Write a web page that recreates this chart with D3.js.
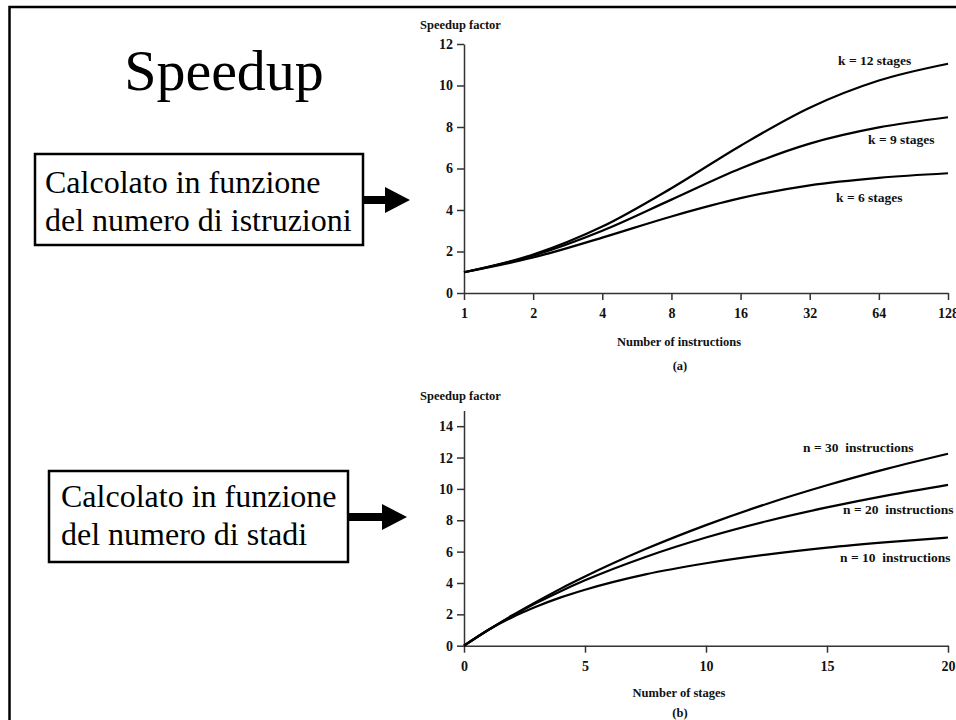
<!DOCTYPE html>
<html>
<head>
<meta charset="utf-8">
<script src="https://cdn.jsdelivr.net/npm/d3@7"></script>
<style>
  body { margin: 0; background: #fff; }
  svg { display: block; }
  .axis path, .axis line { stroke: #333; stroke-width: 1.5; }
  .axis text { font-family: "Liberation Serif", "Times New Roman", serif; font-weight: bold; font-size: 14px; fill: #111; }
  .lbl { font-family: "Liberation Serif", "Times New Roman", serif; font-weight: bold; fill: #111; }
  .slide { font-family: "Liberation Serif", "Times New Roman", serif; fill: #000; }
</style>
</head>
<body>
<svg id="slide" width="956" height="720"></svg>
<script>
// (a) speedup vs number of instructions, one curve per pipeline depth
const instrTicks = [1, 2, 4, 8, 16, 32, 64, 128];
const speedupTicksA = [0, 2, 4, 6, 8, 10, 12];
const k12 = [1.00, 1.85, 3.20, 5.05, 7.10, 8.93, 10.24, 11.05];
const k9  = [1.00, 1.80, 3.00, 4.50, 6.00, 7.20, 7.98, 8.47];
const k6  = [1.00, 1.71, 2.67, 3.69, 4.57, 5.19, 5.55, 5.77];
const seriesA = [
  { label: "k = 12 stages", values: k12 },
  { label: "k = 9 stages", values: k9 },
  { label: "k = 6 stages", values: k6 }
];

// (b) speedup vs number of stages, one curve per instruction count
const stagePoints = [0, 1, 2, 3, 4, 5, 7.5, 10, 12.5, 15, 17.5, 20];
const stageTicks = [0, 5, 10, 15, 20];
const speedupTicksB = [0, 2, 4, 6, 8, 10, 12, 14];
const n30 = [0, 1.00, 1.94, 2.81, 3.64, 4.41, 6.16, 7.69, 9.04, 10.23, 11.29, 12.24];
const n20 = [0, 1.00, 1.90, 2.73, 3.48, 4.17, 5.66, 6.90, 7.94, 8.82, 9.59, 10.26];
const n10 = [0, 1.00, 1.82, 2.50, 3.08, 3.57, 4.55, 5.26, 5.81, 6.25, 6.60, 6.90];
const seriesB = [
  { label: "n = 30  instructions", values: n30 },
  { label: "n = 20  instructions", values: n20 },
  { label: "n = 10  instructions", values: n10 }
];

const svg = d3.select("#slide");

// slide frame (only left and top edges are visible)
svg.append("path")
    .attr("d", "M9.5,720 V7 H956")
    .attr("fill", "none")
    .attr("stroke", "#000")
    .attr("stroke-width", 2.5);

svg.append("text")
    .attr("class", "slide")
    .attr("x", 224).attr("y", 90)
    .attr("text-anchor", "middle")
    .attr("font-size", 58)
    .text("Speedup");

// callout boxes with arrows pointing at the charts
const callouts = [
  { lines: ["Calcolato in funzione", "del numero di istruzioni"], x: 35, y: 154, w: 328, h: 91, tx: 45, base: 193, arrowY: 200, tip: 410 },
  { lines: ["Calcolato in funzione", "del numero di stadi"], x: 49, y: 471, w: 299, h: 91, tx: 61, base: 507, arrowY: 517, tip: 407 }
];

callouts.forEach(c => {
  svg.append("rect")
      .attr("x", c.x).attr("y", c.y)
      .attr("width", c.w).attr("height", c.h)
      .attr("fill", "#fff")
      .attr("stroke", "#000")
      .attr("stroke-width", 2.5);
  svg.append("text")
      .attr("class", "slide")
      .attr("font-size", 32)
      .selectAll("tspan")
      .data(c.lines)
      .enter().append("tspan")
      .attr("x", c.tx)
      .attr("y", (d, i) => c.base + i * 38)
      .text(d => d);
  const x0 = c.x + c.w, head = c.tip - 25;
  svg.append("path")
      .attr("d", `M${x0},${c.arrowY - 4} H${head} V${c.arrowY - 13} L${c.tip},${c.arrowY} L${head},${c.arrowY + 13} V${c.arrowY + 4} H${x0} Z`)
      .attr("fill", "#000");
});

const line = (x, y) => d3.line().x(d => x(d[0])).y(d => y(d[1])).curve(d3.curveMonotoneX);

// ---------- chart (a) ----------
const xA = d3.scaleLog().base(2).domain([1, 128]).range([464, 948]);
const yA = d3.scaleLinear().domain([0, 12]).range([293, 44]);

svg.append("g").attr("class", "axis")
    .attr("transform", "translate(0,293)")
    .call(d3.axisBottom(xA).tickValues(instrTicks).tickFormat(d3.format("d"))
      .tickSize(7).tickSizeOuter(0).tickPadding(8));
svg.append("g").attr("class", "axis")
    .attr("transform", "translate(464,0)")
    .call(d3.axisLeft(yA).tickValues(speedupTicksA).tickSize(7).tickSizeOuter(0).tickPadding(4));

svg.selectAll(".curveA")
    .data(seriesA)
    .enter().append("path")
    .attr("class", "curveA")
    .attr("fill", "none")
    .attr("stroke", "#000")
    .attr("stroke-width", 2.2)
    .attr("d", s => line(xA, yA)(instrTicks.map((n, i) => [n, s.values[i]])));

const labelPosA = [[838, 65], [868, 144], [836, 202]];
svg.selectAll(".lblA")
    .data(seriesA)
    .enter().append("text")
    .attr("class", "lbl lblA")
    .attr("font-size", 13.5)
    .attr("x", (d, i) => labelPosA[i][0])
    .attr("y", (d, i) => labelPosA[i][1])
    .text(d => d.label);

svg.append("text").attr("class", "lbl").attr("font-size", 12.5)
    .attr("x", 420).attr("y", 29).text("Speedup factor");
svg.append("text").attr("class", "lbl").attr("font-size", 12.5)
    .attr("x", 679).attr("y", 346).attr("text-anchor", "middle").text("Number of instructions");
svg.append("text").attr("class", "lbl").attr("font-size", 12.5)
    .attr("x", 680).attr("y", 370).attr("text-anchor", "middle").text("(a)");

// ---------- chart (b) ----------
const xB = d3.scaleLinear().domain([0, 20]).range([464, 948]);
const yB = d3.scaleLinear().domain([0, 15]).range([645.7, 410.5]);

svg.append("g").attr("class", "axis")
    .attr("transform", "translate(0,645.7)")
    .call(d3.axisBottom(xB).tickValues(stageTicks).tickSize(7).tickSizeOuter(0).tickPadding(8));
svg.append("g").attr("class", "axis")
    .attr("transform", "translate(464,0)")
    .call(d3.axisLeft(yB).tickValues(speedupTicksB).tickSize(7).tickSizeOuter(0).tickPadding(4));

svg.selectAll(".curveB")
    .data(seriesB)
    .enter().append("path")
    .attr("class", "curveB")
    .attr("fill", "none")
    .attr("stroke", "#000")
    .attr("stroke-width", 2.2)
    .attr("d", s => line(xB, yB)(stagePoints.map((k, i) => [k, s.values[i]])));

const labelPosB = [[803, 452], [843, 514], [840, 562]];
svg.selectAll(".lblB")
    .data(seriesB)
    .enter().append("text")
    .attr("class", "lbl lblB")
    .attr("font-size", 13.5)
    .attr("xml:space", "preserve")
    .style("white-space", "pre")
    .attr("x", (d, i) => labelPosB[i][0])
    .attr("y", (d, i) => labelPosB[i][1])
    .text(d => d.label);

svg.append("text").attr("class", "lbl").attr("font-size", 12.5)
    .attr("x", 420).attr("y", 400).text("Speedup factor");
svg.append("text").attr("class", "lbl").attr("font-size", 12.5)
    .attr("x", 679).attr("y", 697).attr("text-anchor", "middle").text("Number of stages");
svg.append("text").attr("class", "lbl").attr("font-size", 12.5)
    .attr("x", 680).attr("y", 717).attr("text-anchor", "middle").text("(b)");
</script>
</body>
</html>
